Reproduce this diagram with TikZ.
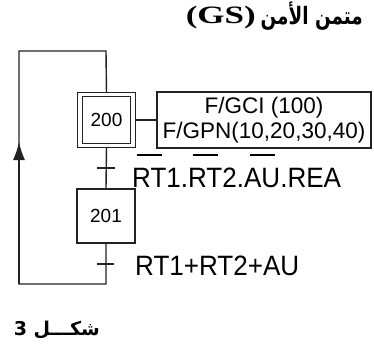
\documentclass[tikz,border=0pt]{standalone}
\usepackage{fontspec}
\setmainfont{Liberation Sans}
\newfontfamily\arabicfont[Script=Arabic]{DejaVu Sans}
\newfontfamily\gsfont{Liberation Serif}
\newfontfamily\lblfont[FakeStretch=0.93]{Liberation Sans}
\TeXXeTstate=1
\usetikzlibrary{arrows.meta,backgrounds}
\newsavebox\ngbox
\newcommand\negterm[1]{\sbox\ngbox{#1}\rlap{\makebox[\wd\ngbox]{\raisebox{31pt}{\rule{25pt}{1.6pt}}}}\usebox\ngbox}
\definecolor{ink}{HTML}{222222}
\tikzset{
  conn/.style={draw=ink, line width=1.4pt},
  stepbox/.style={draw=ink, fill=white, line width=1.1pt, inner sep=0pt,
    font=\fontsize{19}{22}\selectfont},
  initbox/.style={stepbox, double, double distance=3.6pt},
  actbox/.style={draw=ink, fill=white, line width=1.1pt, inner sep=0pt, align=center,
    font=\fontsize{22.5}{25}\selectfont},
  lbl/.style={inner sep=0pt, font=\lblfont\fontsize{28}{32}\selectfont},
}
\begin{document}
\begin{tikzpicture}[x=1pt,y=-1pt]
\useasboundingbox (0,0) rectangle (374,353);
% title
\node[anchor=base east, inner sep=0pt] (titlear) at (363,25)
  {\arabicfont\bfseries\fontsize{20}{24}\selectfont\scalebox{0.92}[1.2]{\beginR متمن الأمن\endR}};
\node[anchor=base east, inner sep=0pt] (titlegs) at (256,24)
  {\gsfont\bfseries\fontsize{25}{30}\selectfont\scalebox{1.4}[1]{(GS)}};
% steps
\node[initbox, minimum width=53pt, minimum height=51pt] (s200) at (106.5,120) {200};
\node[stepbox, minimum width=58pt, minimum height=54pt] (s201) at (106,216) {201};
\node[actbox, minimum width=214pt, minimum height=56pt] (act) at (264,120)
  {F/GCI (100)\\F/GPN(10,20,30,40)};
% transition labels
\node[lbl, anchor=base west] (t1) at (132,187) {\negterm{RT}1.\negterm{RT}2.\negterm{AU}.REA};
\node[lbl, anchor=base west] (t2) at (135,275) {RT1+RT2+AU};
% caption
\node[anchor=base east, inner sep=0pt] (cap) at (100,335)
  {\arabicfont\bfseries\fontsize{19}{22}\selectfont\beginR شكـــل 3\endR};
% coordinates
\coordinate (tl) at (19,51);
\coordinate (tr) at (106,51);
\coordinate (bl) at (19,284);
\coordinate (br) at (106,284);
\coordinate (arr) at (19,142);
\coordinate (k1a) at (97,168);
\coordinate (k1b) at (115,168);
\coordinate (k2a) at (97,264);
\coordinate (k2b) at (114,264);
\begin{scope}[on background layer]
  \fill[white] (0,0) rectangle (374,353);
  \draw[conn] (s201.south) -- (br) -- (bl) -- (tl) -- (tr) -- (s200.north);
  \draw[conn] (s200.south) -- (s201.north);
  \draw[conn] (s200.east) -- (act.west);
\end{scope}
\draw[conn, -{Latex[length=18pt,width=12pt]}] (bl) -- (arr);
\draw[conn] (k1a) -- (k1b);
\draw[conn] (k2a) -- (k2b);
\end{tikzpicture}
\end{document}
